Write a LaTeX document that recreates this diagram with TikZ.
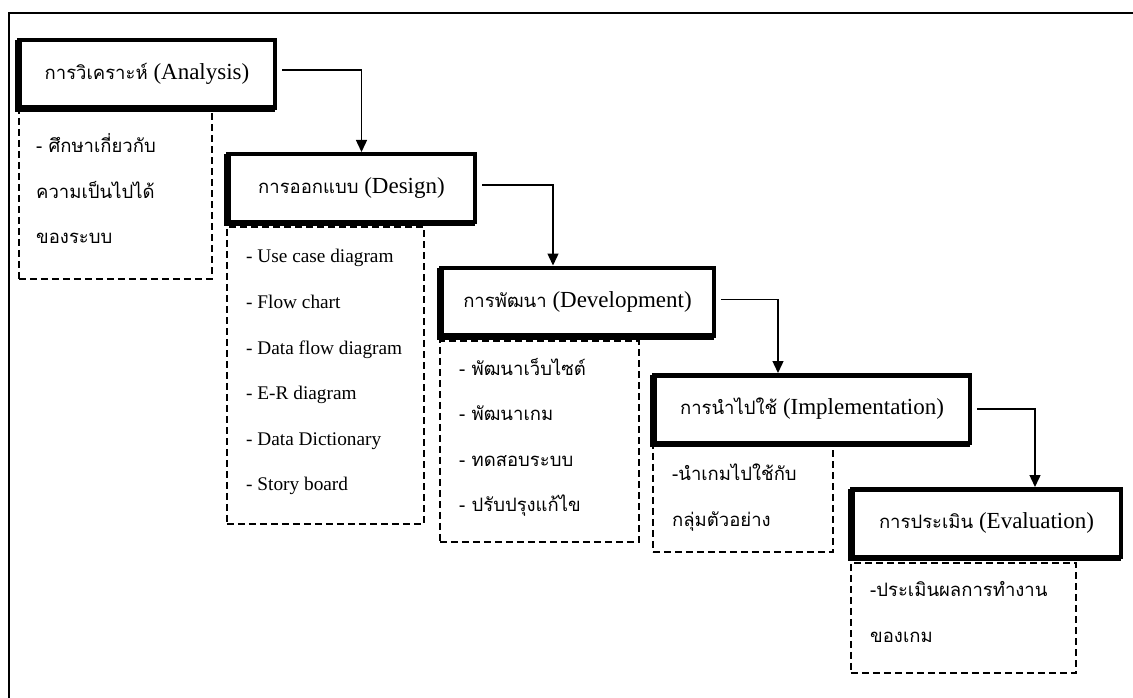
\documentclass[tikz,border=0pt]{standalone}
\usepackage{fontspec}
\setmainfont{Liberation Serif}
\newfontfamily\thaifont[Script=Thai]{Loma}
\usetikzlibrary{arrows.meta}

% Thai part of a stage title
\newcommand\stagethai[1]{{\thaifont\fontsize{18.5}{22}\selectfont #1}}

\tikzset{
  frameline/.style={line width=1.6pt},
  stagebox/.style={draw, line width=4.5pt, fill=white, inner sep=0pt,
    minimum height=67.5pt, font=\fontsize{23}{27}\selectfont,
    preaction={draw, line width=4.5pt, transform canvas={shift={(-2pt,-2pt)}}}},
  taskbox/.style={draw, line width=1.7pt, dash pattern=on 7pt off 4pt,
    anchor=north west, inner sep=0pt},
  tasklist/.style={anchor=west, align=left, inner sep=0pt},
  thaitasks/.style={font=\thaifont\fontsize{18.5}{45.5}\selectfont},
  latintasks/.style={font=\fontsize{19.3}{45.6}\selectfont},
  flow/.style={line width=1.4pt, -{Triangle[width=11pt,length=12pt]}}
}

\begin{document}
\begin{tikzpicture}[x=1pt, y=-1pt]
\useasboundingbox (0,0) rectangle (1133,698);

% page frame (left and top edges)
\coordinate (frameBL) at (9,698);
\coordinate (frameTL) at (9,13);
\coordinate (frameTR) at (1133,13);
\draw[frameline] (frameBL) -- (frameTL) -- (frameTR);

% dashed boxes holding the tasks of each stage
\node[taskbox, minimum width=193pt, minimum height=168pt] (anaTasks) at (18,110) {};
\node[taskbox, minimum width=197pt, minimum height=297pt] (desTasks) at (226,226) {};
\node[taskbox, minimum width=199pt, minimum height=201pt] (devTasks) at (439,340) {};
\node[taskbox, minimum width=180pt, minimum height=106pt] (impTasks) at (652,445) {};
\node[taskbox, minimum width=225pt, minimum height=110pt] (evaTasks) at (850,562) {};

% task lists
\node[tasklist, thaitasks] (anaList) at ([xshift=18pt,yshift=6pt]anaTasks.west)
  {- ศึกษาเกี่ยวกับ\\ความเป็นไปได้\\ของระบบ};
\node[tasklist, latintasks] (desList) at ([xshift=20pt,yshift=3pt]desTasks.west)
  {- Use case diagram\\- Flow chart\\- Data flow diagram\\- E-R diagram\\- Data Dictionary\\- Story board};
\node[tasklist, thaitasks] (devList) at ([xshift=20pt,yshift=4pt]devTasks.west)
  {- พัฒนาเว็บไซต์\\- พัฒนาเกม\\- ทดสอบระบบ\\- ปรับปรุงแก้ไข};
\node[tasklist, thaitasks] (impList) at ([xshift=20pt,yshift=1pt]impTasks.west)
  {-นำเกมไปใช้กับ\\กลุ่มตัวอย่าง};
\node[tasklist, thaitasks] (evaList) at ([xshift=20pt,yshift=6pt]evaTasks.west)
  {-ประเมินผลการทำงาน\\ของเกม};

% stages
\node[stagebox, minimum width=255.5pt] (ana) at (147,74)
  {\stagethai{การวิเคราะห์} (Analysis)};
\node[stagebox, minimum width=246.5pt] (des) at (351.5,188)
  {\stagethai{การออกแบบ} (Design)};
\node[stagebox, minimum width=272.5pt] (dev) at (577.5,301.5)
  {\stagethai{การพัฒนา} (Development)};
\node[stagebox, minimum width=315.5pt] (imp) at (812,409)
  {\stagethai{การนำไปใช้} (Implementation)};
\node[stagebox, minimum width=268.5pt] (eva) at (986.5,523)
  {\stagethai{การประเมิน} (Evaluation)};

% flow between stages
\draw[flow] ([xshift=5pt,yshift=4pt]ana.east) -| ([xshift=10pt]des.north);
\draw[flow] ([xshift=5pt,yshift=3pt]des.east) -| ([xshift=-24.5pt]dev.north);
\draw[flow] ([xshift=5pt,yshift=2pt]dev.east) -| ([xshift=-34pt]imp.north);
\draw[flow] ([xshift=5pt]imp.east) -| ([xshift=48.5pt]eva.north);
\end{tikzpicture}
\end{document}
